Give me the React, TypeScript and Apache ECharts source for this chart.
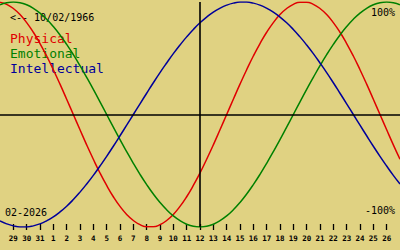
import React, { useEffect, useRef } from "react";
import * as echarts from "echarts";

// day labels (one per day, Jan 28 .. Feb 27)
const days = ["28", "29", "30", "31", "1", "2", "3", "4", "5", "6", "7", "8", "9", "10", "11", "12", "13", "14", "15", "16", "17", "18", "19", "20", "21", "22", "23", "24", "25", "26", "27"];
// curve values read at half-day steps (61 samples)
const physical = [0.998, 0.979, 0.942, 0.888, 0.817, 0.731, 0.631, 0.52, 0.398, 0.27, 0.136, 0.0, -0.136, -0.27, -0.398, -0.52, -0.631, -0.731, -0.817, -0.888, -0.942, -0.979, -0.998, -0.998, -0.979, -0.942, -0.888, -0.817, -0.731, -0.631, -0.52, -0.398, -0.27, -0.136, 0.0, 0.136, 0.27, 0.398, 0.52, 0.631, 0.731, 0.817, 0.888, 0.942, 0.979, 0.998, 0.998, 0.979, 0.942, 0.888, 0.817, 0.731, 0.631, 0.52, 0.398, 0.27, 0.136, 0.0, -0.136, -0.27, -0.398];
const emotional = [0.975, 0.994, 1.0, 0.994, 0.975, 0.944, 0.901, 0.847, 0.782, 0.707, 0.623, 0.532, 0.434, 0.33, 0.223, 0.112, 0.0, -0.112, -0.223, -0.33, -0.434, -0.532, -0.623, -0.707, -0.782, -0.847, -0.901, -0.944, -0.975, -0.994, -1.0, -0.994, -0.975, -0.944, -0.901, -0.847, -0.782, -0.707, -0.623, -0.532, -0.434, -0.33, -0.223, -0.112, 0.0, 0.112, 0.223, 0.33, 0.434, 0.532, 0.623, 0.707, 0.782, 0.847, 0.901, 0.944, 0.975, 0.994, 1.0, 0.994, 0.975];
const intellectual = [-0.945, -0.972, -0.99, -0.999, -0.999, -0.99, -0.972, -0.945, -0.91, -0.866, -0.815, -0.756, -0.69, -0.618, -0.541, -0.458, -0.372, -0.282, -0.189, -0.095, 0.0, 0.095, 0.189, 0.282, 0.372, 0.458, 0.541, 0.618, 0.69, 0.756, 0.815, 0.866, 0.91, 0.945, 0.972, 0.99, 0.999, 0.999, 0.99, 0.972, 0.945, 0.91, 0.866, 0.815, 0.756, 0.69, 0.618, 0.541, 0.458, 0.372, 0.282, 0.189, 0.095, 0.0, -0.095, -0.189, -0.282, -0.372, -0.458, -0.541, -0.618];
const todayIndex = 15;
const birthLabel = "<-- 10/02/1966";
const monthLabel = "02-2026";
const topLabel = "100%";
const bottomLabel = "-100%";
const seriesNames = ["Physical", "Emotional", "Intellectual"];

const MONO = "DejaVu Sans Mono, monospace";
const RED = "#e00000";
const GREEN = "#008000";
const BLUE = "#00009a";

export default function App() {
  const ref = useRef<HTMLDivElement>(null);
  useEffect(() => {
    if (!ref.current) return;
    const chart = echarts.init(ref.current, null, { renderer: "svg" });
    // half-day categories: each day label followed by an unlabeled half step
    const cats: string[] = [];
    days.forEach((d, i) => {
      cats.push(d);
      if (i < days.length - 1) cats.push(d + "+");
    });
    const last = cats.length - 1;
    const showIdx = (i: number) => i % 2 === 0 && i > 0 && i < last;
    const lineSeries = (name: string, data: number[], color: string) => ({
      name,
      type: "line",
      data,
      smooth: true,
      symbol: "none",
      lineStyle: { color, width: 1.5 },
      silent: true,
    });
    chart.setOption({
      animation: false,
      backgroundColor: "#e0d282",
      grid: { left: 0, right: 0, top: 2, height: 225 },
      xAxis: {
        type: "category",
        data: cats,
        boundaryGap: false,
        offset: -3,
        axisLine: { show: false, onZero: false },
        axisTick: { show: true, interval: (i: number) => showIdx(i), length: 6, lineStyle: { color: "#000", width: 1.3 } },
        axisLabel: { interval: (i: number) => showIdx(i), margin: 10, fontSize: 7.5, fontFamily: MONO, color: "#000", fontWeight: "bold" },
        splitLine: { show: false },
      },
      yAxis: { type: "value", min: -1, max: 1, show: false },
      series: [
        {
          type: "line",
          data: [],
          silent: true,
          markLine: {
            silent: true,
            symbol: "none",
            label: { show: false },
            lineStyle: { color: "#000", width: 1.6, type: "solid" },
            data: [{ yAxis: 0 }, { xAxis: todayIndex * 2 }],
          },
        },
        lineSeries(seriesNames[0], physical, RED),
        lineSeries(seriesNames[1], emotional, GREEN),
        lineSeries(seriesNames[2], intellectual, BLUE),
      ],
      graphic: [
        { type: "text", x: 10, y: 17, style: { text: birthLabel, font: `10px ${MONO}`, fill: "#000", textVerticalAlign: "middle" } },
        { type: "text", x: 10, y: 38, style: { text: seriesNames[0], font: `13px ${MONO}`, fill: RED, textVerticalAlign: "middle" } },
        { type: "text", x: 10, y: 53, style: { text: seriesNames[1], font: `13px ${MONO}`, fill: GREEN, textVerticalAlign: "middle" } },
        { type: "text", x: 10, y: 68, style: { text: seriesNames[2], font: `13px ${MONO}`, fill: BLUE, textVerticalAlign: "middle" } },
        { type: "text", x: 395, y: 12, style: { text: topLabel, font: `10px ${MONO}`, fill: "#000", textAlign: "right", textVerticalAlign: "middle" } },
        { type: "text", x: 395, y: 210, style: { text: bottomLabel, font: `10px ${MONO}`, fill: "#000", textAlign: "right", textVerticalAlign: "middle" } },
        { type: "text", x: 5, y: 212, style: { text: monthLabel, font: `10px ${MONO}`, fill: "#000", textVerticalAlign: "middle" } },
      ],
    });
    return () => chart.dispose();
  }, []);
  return <div ref={ref} style={{ position: "fixed", left: 0, top: 0, width: 400, height: 250 }} />;
}
